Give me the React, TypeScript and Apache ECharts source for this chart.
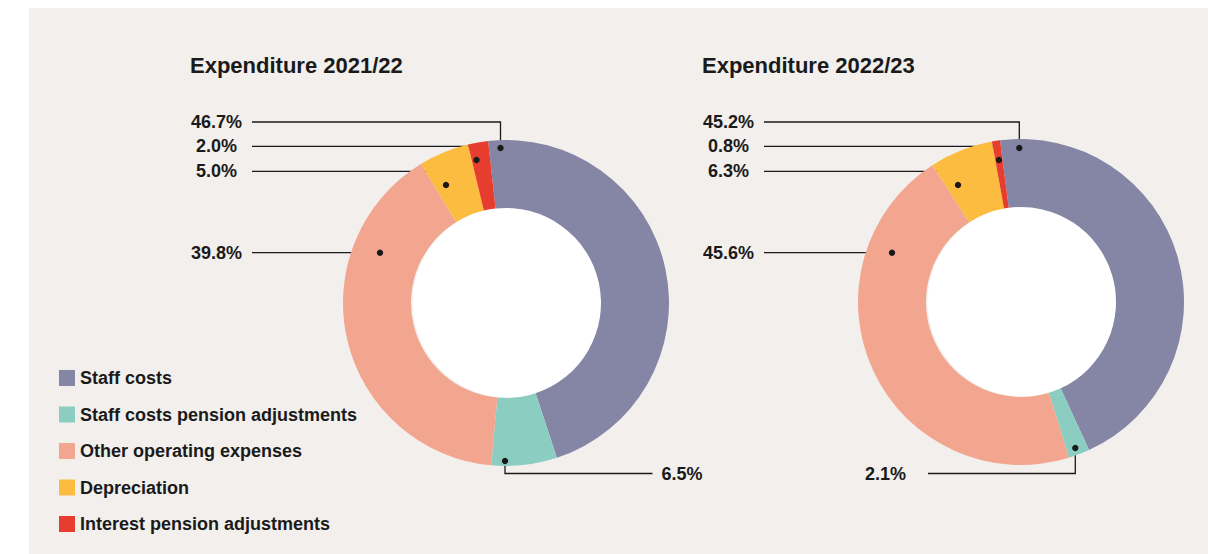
import React, { useEffect, useRef } from "react";
import * as echarts from "echarts";

const categories = [
  "Staff costs",
  "Staff costs pension adjustments",
  "Other operating expenses",
  "Depreciation",
  "Interest pension adjustments",
];
const values2122 = [46.7, 6.5, 39.8, 5.0, 2.0];
const values2223 = [45.2, 2.1, 45.6, 6.3, 0.8];
const titles = ["Expenditure 2021/22", "Expenditure 2022/23"];
const colors = ["#8585a5", "#8ccdc2", "#f2a690", "#fcbc40", "#e63d2f"];

const FONT = "'Liberation Sans', Arial, Helvetica, sans-serif";
const INK = "#1a1a1a";
const BG = "#f2efec";

// layout of each donut
const donuts = [
  { cx: 506, cy: 303, startAngle: 96.3, titleX: 190 },
  { cx: 1021, cy: 302, startAngle: 97.4, titleX: 702 },
];
const R_OUT = 163;
const R_IN = 95;

// label annotation layout: text centre x, line y, dot x/y, line end x (near text)
type Anchor = { tx: number; ly: number; dx: number; dy: number; ex: number };
const anchors: Anchor[][] = [
  [
    { tx: 216.5, ly: 122, dx: 500.5, dy: 148, ex: 252 },
    { tx: 682, ly: 473.5, dx: 505, dy: 461, ex: 652.5 },
    { tx: 216.5, ly: 252.7, dx: 380, dy: 252.7, ex: 252 },
    { tx: 216.5, ly: 171.3, dx: 446, dy: 185, ex: 252 },
    { tx: 216.5, ly: 146.3, dx: 476.5, dy: 160, ex: 252 },
  ],
  [
    { tx: 728.5, ly: 122, dx: 1019.3, dy: 148, ex: 764 },
    { tx: 885.5, ly: 473.5, dx: 1075.3, dy: 448, ex: 928 },
    { tx: 728.5, ly: 252.7, dx: 892, dy: 252.7, ex: 764 },
    { tx: 728.5, ly: 171.3, dx: 958, dy: 185, ex: 764 },
    { tx: 728.5, ly: 146.3, dx: 999, dy: 160, ex: 764 },
  ],
];

export default function App() {
  const ref = useRef<HTMLDivElement>(null);

  useEffect(() => {
    if (!ref.current) return;
    const chart = echarts.init(ref.current, null, { renderer: "svg" });
    const seriesValues = [values2122, values2223];

    const series: any[] = seriesValues.map((vals, si) => ({
      type: "pie",
      name: titles[si],
      center: [donuts[si].cx, donuts[si].cy],
      radius: [R_IN, R_OUT],
      startAngle: donuts[si].startAngle,
      clockwise: true,
      avoidLabelOverlap: false,
      silent: true,
      z: 2,
      itemStyle: { borderWidth: 0 },
      data: categories.map((name, i) => ({
        name,
        value: vals[i],
        itemStyle: { color: colors[i] },
      })),
      label: {
        show: true,
        position: "outside",
        formatter: (p: any) => Number(p.value).toFixed(1) + "%",
        fontFamily: FONT,
        fontSize: 18,
        fontWeight: "bold",
        color: INK,
      },
      labelLine: {
        show: true,
        smooth: false,
        lineStyle: { color: INK, width: 1.3 },
      },
      labelLayout: (params: any) => {
        const a = anchors[si][params.dataIndex];
        return {
          x: a.tx,
          y: a.ly,
          align: "center",
          verticalAlign: "middle",
          labelLinePoints: [
            [a.dx, a.dy],
            [a.dx, a.ly],
            [a.ex, a.ly],
          ],
        };
      },
    }));

    const graphic: any[] = [
      {
        type: "rect",
        z: -10,
        silent: true,
        shape: { x: 29, y: 8, width: 1208 - 29, height: 554 - 8 },
        style: { fill: BG },
      },
      ...donuts.map((d) => ({
        type: "circle",
        z: -5,
        silent: true,
        shape: { cx: d.cx + 1.5, cy: d.cy - 0.5, r: R_IN },
        style: { fill: "#ffffff" },
      })),
      ...titles.map((t, i) => ({
        type: "text",
        z: 10,
        x: donuts[i].titleX,
        y: 65,
        style: {
          text: t,
          fontFamily: FONT,
          fontSize: 22,
          fontWeight: "bold",
          fill: INK,
          align: "left",
          verticalAlign: "middle",
        },
      })),
      ...anchors.flatMap((list) =>
        list.map((a) => ({
          type: "circle",
          z: 100,
          silent: true,
          shape: { cx: a.dx, cy: a.dy, r: 3.2 },
          style: { fill: INK },
        }))
      ),
    ];

    chart.setOption({
      animation: false,
      backgroundColor: "#ffffff",
      legend: {
        orient: "vertical",
        left: 59,
        top: 369,
        padding: 0,
        icon: "rect",
        itemWidth: 16,
        itemHeight: 16,
        itemGap: 18.5,
        selectedMode: false,
        data: categories,
        textStyle: {
          fontFamily: FONT,
          fontSize: 18,
          fontWeight: "bold",
          color: INK,
        },
      },
      graphic,
      series,
    });

    return () => chart.dispose();
  }, []);

  return (
    <div
      ref={ref}
      style={{ position: "absolute", left: 0, top: 0, width: 1208, height: 554 }}
    />
  );
}
